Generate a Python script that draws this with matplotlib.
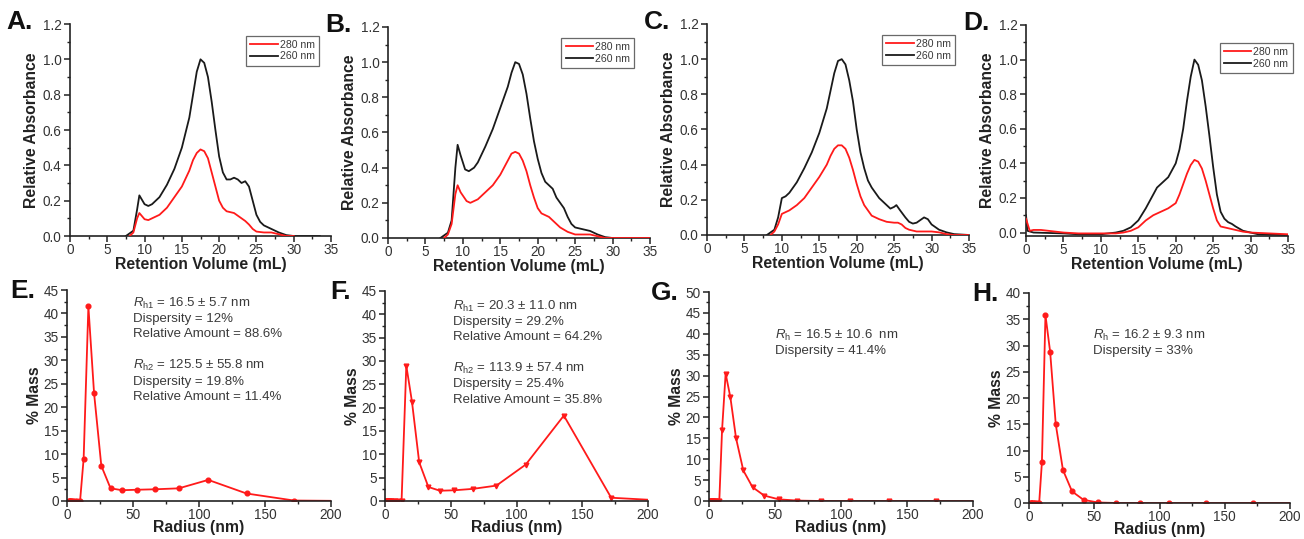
import matplotlib
matplotlib.use("Agg")
import matplotlib.pyplot as plt
from matplotlib.ticker import MultipleLocator

plt.rcParams['font.family'] = ['Liberation Sans', 'DejaVu Sans']
plt.rcParams['mathtext.fontset'] = 'custom'
plt.rcParams['mathtext.rm'] = 'Liberation Sans'
plt.rcParams['mathtext.it'] = 'Liberation Sans:italic'

# ---------------- SEC chromatograms (A-D) ----------------
A_x260 = [7.5, 8.5, 9.0, 9.3, 10.0, 10.5, 11, 12, 13, 14, 15, 16, 16.5, 17, 17.5, 18, 18.5, 19, 19.5, 20, 20.5, 21, 21.5, 22, 22.5, 23, 23.5, 24, 24.5, 25, 25.5, 26, 27, 28, 29, 30, 33.5]
A_y260 = [0.0, 0.03, 0.15, 0.23, 0.18, 0.17, 0.18, 0.22, 0.29, 0.38, 0.50, 0.67, 0.80, 0.93, 1.0, 0.98, 0.90, 0.76, 0.60, 0.45, 0.36, 0.32, 0.32, 0.33, 0.32, 0.30, 0.31, 0.28, 0.20, 0.12, 0.08, 0.06, 0.04, 0.02, 0.005, 0.0, 0.0]
A_x280 = [8.0, 8.5, 9.0, 9.3, 10.0, 10.5, 11, 12, 13, 14, 15, 16, 16.5, 17, 17.5, 18, 18.5, 19, 19.5, 20, 20.5, 21, 21.5, 22, 22.5, 23, 23.5, 24, 24.5, 25, 26, 27, 28, 29, 30]
A_y280 = [0.0, 0.02, 0.10, 0.13, 0.095, 0.09, 0.10, 0.12, 0.16, 0.22, 0.28, 0.37, 0.43, 0.47, 0.49, 0.48, 0.44, 0.36, 0.28, 0.20, 0.16, 0.14, 0.135, 0.13, 0.115, 0.10, 0.085, 0.065, 0.04, 0.025, 0.02, 0.02, 0.01, 0.0, 0.0]

B_x260 = [7.0, 8.0, 8.5, 9.0, 9.3, 9.7, 10.3, 10.8, 11.5, 12, 13, 14, 15, 16, 16.5, 17, 17.5, 18, 18.5, 19, 19.5, 20, 20.5, 21, 21.5, 22, 22.5, 23, 23.5, 24, 24.5, 25, 26, 27, 28, 29, 30, 35]
B_y260 = [0.0, 0.03, 0.10, 0.40, 0.53, 0.47, 0.39, 0.38, 0.40, 0.43, 0.52, 0.62, 0.74, 0.86, 0.94, 1.0, 0.99, 0.93, 0.82, 0.68, 0.55, 0.45, 0.37, 0.32, 0.30, 0.28, 0.23, 0.20, 0.17, 0.12, 0.08, 0.06, 0.05, 0.04, 0.02, 0.005, 0.0, 0.0]
B_x280 = [7.5, 8.0, 8.5, 9.0, 9.3, 9.7, 10.5, 11, 12, 13, 14, 15, 16, 16.5, 17, 17.5, 18, 18.5, 19, 19.5, 20, 20.5, 21, 21.5, 22, 22.5, 23, 24, 25, 26, 27, 28, 29, 35]
B_y280 = [0.0, 0.02, 0.08, 0.25, 0.30, 0.26, 0.21, 0.20, 0.22, 0.26, 0.30, 0.36, 0.44, 0.48, 0.49, 0.48, 0.44, 0.38, 0.30, 0.23, 0.17, 0.14, 0.13, 0.12, 0.10, 0.08, 0.06, 0.035, 0.02, 0.02, 0.02, 0.01, 0.0, 0.0]

C_x260 = [8.0, 9.0, 9.5, 10.0, 10.5, 11, 12, 13, 14, 15, 16, 16.5, 17, 17.5, 18, 18.5, 19, 19.5, 20, 20.5, 21, 21.5, 22, 23, 24, 24.5, 25, 25.3, 25.8, 26.5, 27, 27.5, 28, 28.5, 29, 29.5, 30, 31, 32, 33, 35]
C_y260 = [0.0, 0.03, 0.10, 0.21, 0.22, 0.24, 0.30, 0.38, 0.47, 0.58, 0.72, 0.82, 0.92, 0.99, 1.0, 0.97, 0.88, 0.76, 0.60, 0.47, 0.38, 0.31, 0.27, 0.21, 0.17, 0.15, 0.16, 0.17, 0.14, 0.10, 0.075, 0.065, 0.07, 0.085, 0.10, 0.09, 0.06, 0.03, 0.015, 0.005, 0.0]
C_x280 = [8.5, 9.0, 9.5, 10.0, 10.5, 11, 12, 13, 14, 15, 16, 16.5, 17, 17.5, 18, 18.5, 19, 19.5, 20, 20.5, 21, 21.5, 22, 23, 24, 25, 25.5, 26, 26.5, 27, 28, 29, 30, 31, 32, 33, 35]
C_y280 = [0.0, 0.02, 0.06, 0.12, 0.13, 0.14, 0.17, 0.21, 0.27, 0.33, 0.40, 0.45, 0.49, 0.51, 0.51, 0.49, 0.44, 0.37, 0.29, 0.22, 0.17, 0.14, 0.11, 0.09, 0.075, 0.07, 0.07, 0.06, 0.04, 0.03, 0.02, 0.02, 0.02, 0.015, 0.005, 0.0, 0.0]

D_x260 = [0.0, 0.2, 1, 5, 7, 10, 12, 13, 14, 15, 16, 17, 17.5, 18, 19, 20, 20.5, 21, 21.5, 22, 22.5, 23, 23.5, 24, 24.5, 25, 25.5, 26, 26.5, 27, 27.5, 28, 29, 30, 31, 35]
D_y260 = [0.10, 0.01, 0.0, -0.005, -0.01, -0.01, 0.0, 0.01, 0.03, 0.07, 0.14, 0.22, 0.26, 0.28, 0.32, 0.40, 0.48, 0.60, 0.76, 0.90, 1.0, 0.97, 0.88, 0.73, 0.56, 0.38, 0.22, 0.12, 0.08, 0.06, 0.05, 0.035, 0.01, 0.0, -0.01, -0.015]
D_x280 = [0.0, 0.5, 1, 2, 3, 5, 7, 10, 12, 13, 14, 15, 16, 17, 18, 19, 20, 20.5, 21, 21.5, 22, 22.5, 23, 23.5, 24, 24.5, 25, 25.5, 26, 27, 28, 29, 30, 35]
D_y280 = [0.08, 0.01, 0.015, 0.015, 0.01, 0.0, -0.005, -0.005, -0.005, 0.0, 0.01, 0.03, 0.07, 0.10, 0.12, 0.14, 0.17, 0.22, 0.28, 0.34, 0.39, 0.42, 0.41, 0.37, 0.30, 0.22, 0.14, 0.07, 0.035, 0.025, 0.015, 0.005, 0.0, -0.01]

# ---------------- DLS mass distributions (E-H) ----------------
radius = [1.2, 1.5, 1.9, 2.4, 3.0, 3.8, 4.8, 6.1, 7.8, 9.9, 12.6, 16.2, 20.5, 26.0, 33.0, 41.8, 52.8, 66.9, 84.7, 107.0, 136.0, 172.0, 218.0]
E_mass = [0, 0, 0, 0, 0, 0, 0, 0, 0, 0, 9.0, 41.5, 23.0, 7.5, 2.7, 2.3, 2.4, 2.5, 2.7, 4.5, 1.6, 0.1, 0]
F_mass = [0, 0, 0, 0, 0, 0, 0, 0, 0, 0, 0, 29.0, 21.3, 8.3, 3.0, 2.2, 2.3, 2.6, 3.3, 7.8, 18.3, 0.7, 0]
G_mass = [0, 0, 0, 0, 0, 0, 0, 0, 0, 17.0, 30.5, 24.8, 15.0, 7.3, 3.3, 1.3, 0.4, 0.1, 0, 0, 0, 0, 0]
H_mass = [0, 0, 0, 0, 0, 0, 0, 0, 0, 7.8, 35.8, 28.8, 15.0, 6.3, 2.2, 0.6, 0.1, 0, 0, 0, 0, 0, 0]

E_text = [r"$R_{\mathrm{h1}}$ = 16.5 $\pm$ 5.7 nm", "Dispersity = 12%", "Relative Amount = 88.6%", "",
          r"$R_{\mathrm{h2}}$ = 125.5 $\pm$ 55.8 nm", "Dispersity = 19.8%", "Relative Amount = 11.4%"]
F_text = [r"$R_{\mathrm{h1}}$ = 20.3 $\pm$ 11.0 nm", "Dispersity = 29.2%", "Relative Amount = 64.2%", "",
          r"$R_{\mathrm{h2}}$ = 113.9 $\pm$ 57.4 nm", "Dispersity = 25.4%", "Relative Amount = 35.8%"]
G_text = [r"$R_{\mathrm{h}}$ = 16.5 $\pm$ 10.6  nm", "Dispersity = 41.4%"]
H_text = [r"$R_{\mathrm{h}}$ = 16.2 $\pm$ 9.3 nm", "Dispersity = 33%"]

W, H = 1304, 539
fig = plt.figure(figsize=(W / 100, H / 100), dpi=100)
RED = '#ff1a1a'
BLK = '#1a1a1a'
TXT = '#3a3a3a'


def add_ax(l, r, t, b):
    return fig.add_axes([l / W, 1 - b / H, (r - l) / W, (b - t) / H])


def style(ax):
    for s in ['top', 'right']:
        ax.spines[s].set_visible(False)
    for s in ['left', 'bottom']:
        ax.spines[s].set_linewidth(1.2)
        ax.spines[s].set_color('#222222')
    ax.tick_params(which='major', direction='out', length=4, width=1.1, labelsize=9.8, colors='#222222', labelcolor='#333333', pad=2)
    ax.tick_params(which='minor', direction='out', length=2.2, width=1.0, colors='#222222')
    ax.tick_params(axis='x', which='major', pad=1)


top_pos = [(70, 331, 24, 236), (388, 650, 27, 238), (707, 969, 24, 235), (1026, 1288, 25, 236)]
top_data = [(A_x280, A_y280, A_x260, A_y260), (B_x280, B_y280, B_x260, B_y260),
            (C_x280, C_y280, C_x260, C_y260), (D_x280, D_y280, D_x260, D_y260)]
top_lab = ['A.', 'B.', 'C.', 'D.']
leg_anchor = [(0.955, 0.945), (0.94, 0.948), (0.946, 0.948), (1.018, 0.915)]

for i, (pos, dat, lab) in enumerate(zip(top_pos, top_data, top_lab)):
    ax = add_ax(*pos)
    style(ax)
    x280, y280, x260, y260 = dat
    ax.plot(x280, y280, color=RED, lw=1.3, label='280 nm', zorder=3)
    ax.plot(x260, y260, color=BLK, lw=1.3, label='260 nm', zorder=2)
    ax.set_xlim(0, 35)
    ax.set_ylim(-0.02 if i == 3 else 0, 1.2)
    ax.xaxis.set_major_locator(MultipleLocator(5))
    ax.xaxis.set_minor_locator(MultipleLocator(2.5))
    ax.yaxis.set_minor_locator(MultipleLocator(0.1))
    ax.set_yticks([0, 0.2, 0.4, 0.6, 0.8, 1.0, 1.2])
    ax.set_yticklabels(['0.0', '0.2', '0.4', '0.6', '0.8', '1.0', '1.2'])
    ax.set_xlabel('Retention Volume (mL)', fontsize=11.3, fontweight='bold', labelpad=0, color='#222222')
    ax.set_ylabel('Relative Absorbance', fontsize=11.3, fontweight='bold', labelpad=3, color='#222222')
    leg = ax.legend(loc='upper right', bbox_to_anchor=leg_anchor[i], fontsize=7.6, frameon=True,
                    fancybox=False, edgecolor='#444444', handlelength=2.6, handletextpad=0.2,
                    borderpad=0.4, labelspacing=0.15, borderaxespad=0)
    leg.get_frame().set_linewidth(0.9)
    for t in leg.get_texts():
        t.set_color(TXT)
    fig.text((pos[0] - 50) / W, 1 - (pos[2] - 2) / H, lab, fontsize=19, fontweight='bold',
             ha='center', va='center', color='#111111')

bot_pos = [(67, 331, 290, 501), (385, 648, 291, 501), (709, 973, 292, 501), (1029, 1290, 293, 503)]
bot_mass = [E_mass, F_mass, G_mass, H_mass]
bot_marker = ['o', 'v', 'v', 'o']
bot_ylim = [45, 45, 50, 40]
bot_lab = ['E.', 'F.', 'G.', 'H.']
bot_text = [E_text, F_text, G_text, H_text]
text_xy = [(133, 303), (453, 306), (775, 335), (1093, 335)]

for i in range(4):
    pos = bot_pos[i]
    ax = add_ax(*pos)
    style(ax)
    ax.plot(radius, bot_mass[i], color=RED, lw=1.3, marker=bot_marker[i], markersize=3.4,
            markerfacecolor=RED, markeredgecolor=RED, clip_on=True)
    ax.set_xlim(0, 200)
    ax.set_ylim(0, bot_ylim[i])
    ax.xaxis.set_major_locator(MultipleLocator(50))
    ax.xaxis.set_minor_locator(MultipleLocator(25))
    ax.yaxis.set_major_locator(MultipleLocator(5))
    ax.yaxis.set_minor_locator(MultipleLocator(2.5))
    ax.set_xlabel('Radius (nm)', fontsize=11.3, fontweight='bold', labelpad=-1.5, color='#222222')
    ax.set_ylabel('% Mass', fontsize=11.3, fontweight='bold', labelpad=1, color='#222222')
    fig.text((pos[0] - 44) / W, 1 - (pos[2] + 1) / H, bot_lab[i], fontsize=19, fontweight='bold',
             ha='center', va='center', color='#111111')
    tx, ty = text_xy[i]
    for k, line in enumerate(bot_text[i]):
        if line:
            fig.text(tx / W, 1 - (ty + 15.7 * k) / H, line, fontsize=9.5, color=TXT,
                     ha='left', va='center')

fig.savefig('out.png', dpi=100)
